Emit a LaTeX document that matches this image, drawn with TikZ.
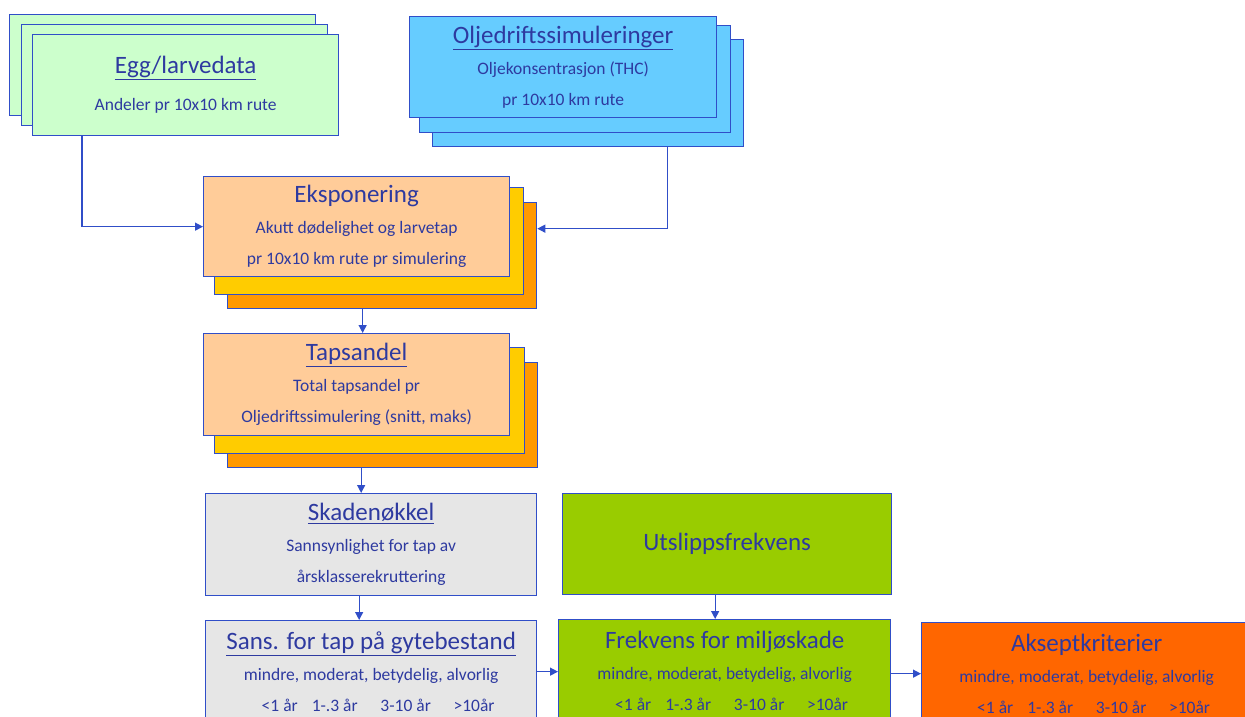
\documentclass[tikz,border=0pt]{standalone}
\usepackage{fontspec}
\setmainfont{Carlito}
\usetikzlibrary{arrows.meta}
\definecolor{boxline}{RGB}{48,78,200}
\definecolor{textblue}{RGB}{46,58,160}
\definecolor{eggfill}{RGB}{204,255,204}
\definecolor{oljefill}{RGB}{102,204,255}
\definecolor{peach}{RGB}{255,204,153}
\definecolor{gold}{RGB}{255,204,0}
\definecolor{darkorange}{RGB}{255,153,0}
\definecolor{lightgrey}{RGB}{230,230,230}
\definecolor{lime}{RGB}{153,204,0}
\definecolor{redorange}{RGB}{255,102,0}
\newcommand{\boxhead}[1]{{\fontsize{25}{30}\selectfont #1}}
\newcommand{\yearrow}{\hspace{14pt}<1 år\hspace{0.8em}1-.3 år\hspace{1.3em}3-10 år\hspace{1.3em}>10år}

\begin{document}
\begin{tikzpicture}[x=1pt,y=-1pt,
	box/.style args={#1 and #2}{draw=boxline,line width=1.3pt,anchor=north west,
		minimum width=#1pt,minimum height=#2pt,inner sep=0pt,align=center,
		text=textblue,font=\fontsize{17.5}{31}\selectfont},
	arr/.style={draw=boxline,line width=1.3pt,-{Triangle[length=8pt,width=8pt]}}]
				\useasboundingbox (0,0) rectangle (1245,716);
				\clip (0,0) rectangle (1245,716);
				\node [box=306 and 101, fill=eggfill, name=eggC] at (9,14) {};
				\node [box=306 and 101, fill=eggfill, name=eggB] at (21,24) {};
				\node [box=306 and 101, fill=eggfill, name=egg] at (32,34)
					{\boxhead{\underline{Egg/larvedata}}\\[6pt] Andeler pr 10x10 km rute};
				\node [box=311 and 107, fill=oljefill, name=oljeC] at (432,39) {};
				\node [box=311 and 107, fill=oljefill, name=oljeB] at (419,25) {};
				\node [box=307 and 101, fill=oljefill, name=olje] at (409,16)
					{\boxhead{\underline{Oljedriftssimuleringer}}\\ Oljekonsentrasjon (THC)\\ pr 10x10 km rute};
				\node [box=309 and 106, fill=darkorange, name=ekspC] at (227,202) {};
				\node [box=309 and 107, fill=gold, name=ekspB] at (214,187) {};
				\node [box=306 and 100, fill=peach, name=eksp] at (203,176)
					{\boxhead{Eksponering}\\ Akutt dødelighet og larvetap\\ pr 10x10 km rute pr simulering};
				\node [box=310 and 105, fill=darkorange, name=tapsC] at (227,362) {};
				\node [box=310 and 106, fill=gold, name=tapsB] at (214,347) {};
				\node [box=306 and 102, fill=peach, name=taps] at (203,333)
					{\boxhead{\underline{Tapsandel}}\\ Total tapsandel pr\\ Oljedriftssimulering (snitt, maks)};
				\node [box=331 and 102, fill=lightgrey, name=skade] at (205,493)
					{\boxhead{\underline{Skadenøkkel}}\\ Sannsynlighet for tap av\\ årsklasserekruttering};
				\node [box=331 and 102, fill=lightgrey, name=sans] at (205,620)
					{\boxhead{\underline{Sans. for tap på gytebestand}}\\ mindre, moderat, betydelig, alvorlig\\ \yearrow};
				\node [box=329 and 101, fill=lime, name=utsl] at (562,493)
					{\boxhead{Utslippsfrekvens}};
				\node [box=332 and 102, fill=lime, name=frek] at (558,619)
					{\boxhead{Frekvens for miljøskade}\\ mindre, moderat, betydelig, alvorlig\\ \yearrow};
				\node [box=330 and 102, fill=redorange, name=aks] at (921,622)
					{\boxhead{Akseptkriterier}\\ mindre, moderat, betydelig, alvorlig\\ \yearrow};
				\draw [arr] ([xshift=50pt]egg.south west) |- (eksp.west);
				\draw [arr] ([xshift=79pt]oljeC.south) |- ([yshift=-2pt]ekspC.east |- eksp.west);
				\draw [arr] ([xshift=6pt]taps.north |- ekspC.south) -- ([xshift=6pt]taps.north);
				\draw [arr] ([xshift=-10pt]skade.north |- tapsC.south) -- ([xshift=-10pt]skade.north);
				\draw [arr] ([xshift=-12pt]skade.south) -- ([xshift=-12pt]sans.north);
				\draw [arr] ([xshift=-12pt]utsl.south) -- ([xshift=-12pt]utsl.south |- frek.north);
				\draw [arr] (sans.east) -- (sans.east -| frek.west);
				\draw [arr] (frek.east |- aks.west) -- (aks.west);
			\end{tikzpicture}
\end{document}
